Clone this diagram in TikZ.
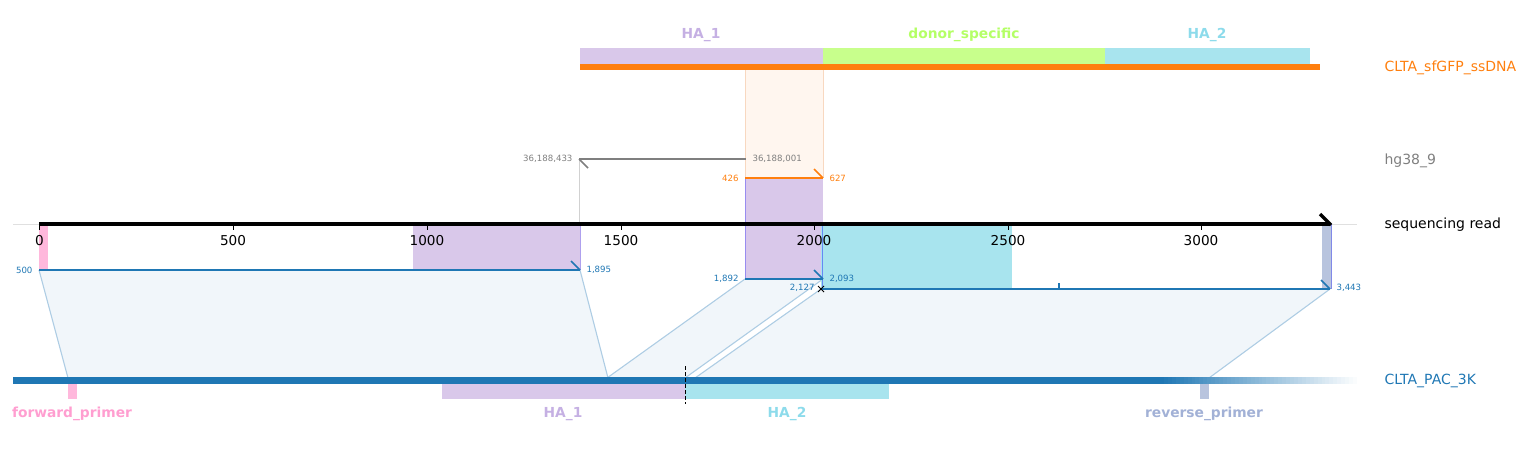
\documentclass[tikz,border=0pt]{standalone}
\usepackage{fontspec}
\setmainfont{DejaVu Sans}
\definecolor{cblue}{HTML}{1F77B4}
\definecolor{corange}{HTML}{FF7F0E}
\definecolor{cgray}{HTML}{7F7F7F}
\definecolor{hapurple}{HTML}{D9C8EA}
\definecolor{hapurpletxt}{HTML}{C5B0E3}
\definecolor{hacyan}{HTML}{A8E4EE}
\definecolor{hacyantxt}{HTML}{8DDBEB}
\definecolor{dgreen}{HTML}{C8FF8C}
\definecolor{dgreentxt}{HTML}{B4FF66}
\definecolor{fpink}{HTML}{FFB8DC}
\definecolor{fpinktxt}{HTML}{FF9ED0}
\definecolor{rgb}{HTML}{B8C4DE}
\definecolor{rgbtxt}{HTML}{A2B1D6}
\definecolor{polyfill}{HTML}{F1F6FA}
\definecolor{polyedge}{HTML}{AECDE4}
\definecolor{peach}{HTML}{FFF6EF}
\definecolor{peachedge}{HTML}{F8D8C0}
\begin{document}
\begin{tikzpicture}[x=1pt,y=-1pt,
  tick/.style={font=\fontsize{13.6}{15}\selectfont, anchor=north},
  small/.style={font=\fontsize{8.6}{9}\selectfont},
  rlab/.style={font=\fontsize{14}{16}\selectfont, anchor=west},
  blab/.style={font=\bfseries\fontsize{13.8}{15}\selectfont},
  aln/.style={line width=1.6pt, line cap=butt},
]
\useasboundingbox (0,0) rectangle (1528,448);

% ---------- connection polygons ----------
\coordinate (r1a) at (39,270); \coordinate (r1b) at (580,270);
\coordinate (p1a) at (68,378); \coordinate (p1b) at (608,378);
\fill[polyfill] (r1a) -- (r1b) -- (p1b) -- (p1a) -- cycle;
\draw[polyedge, line width=1.1pt] (r1a) -- (p1a) (r1b) -- (p1b);
\coordinate (r2a) at (745,279); \coordinate (r2b) at (823,279);
\coordinate (p2a) at (607,378); \coordinate (p2b) at (685,378);
\fill[polyfill] (r2a) -- (r2b) -- (p2b) -- (p2a) -- cycle;
\draw[polyedge, line width=1.1pt] (r2a) -- (p2a) (r2b) -- (p2b);
\coordinate (r3a) at (821,289); \coordinate (r3b) at (1330,289);
\coordinate (p3a) at (695,378); \coordinate (p3b) at (1209,378);
\fill[polyfill] (r3a) -- (r3b) -- (p3b) -- (p3a) -- cycle;
\draw[polyedge, line width=1.1pt] (r3a) -- (p3a) (r3b) -- (p3b);

% ---------- top donor ----------
\fill[peach] (745,69) rectangle (823,178);
\draw[peachedge, line width=0.8pt] (745,69) -- (745,178) (823,69) -- (823,178);
\fill[hapurple] (580,48) rectangle (823,64);
\fill[dgreen] (823,48) rectangle (1105,64);
\fill[hacyan] (1105,48) rectangle (1310,64);
\fill[corange] (580,64) rectangle (1320,70);
\node[blab, text=hapurpletxt] (tha1) at (701,35) {HA\_1};
\node[blab, text=dgreentxt] (tds) at (964,35) {donor\_specific};
\node[blab, text=hacyantxt] (tha2) at (1207,35) {HA\_2};

% ---------- read features ----------
\draw[black!12, line width=0.8pt] (13,224) -- (1357,224);
\fill[fpink] (39,224) rectangle (48,270);
\fill[hapurple] (413,224) rectangle (580,270);
\draw[hapurple!80!blue, line width=0.5pt] (580,224) -- (580,270);
\fill[hapurple] (745,178) rectangle (823,279);
\draw[hapurple!70!blue, line width=0.5pt] (745,178) -- (745,279);
\fill[hacyan] (821,224) rectangle (1012,289);
\draw[hacyan!60!blue, line width=0.8pt] (822,224) -- (822,289);
\fill[rgb] (1322,224) rectangle (1331,289);
\draw[rgb!70!blue, line width=0.5pt] (1331,224) -- (1331,289);

% gray hg38 alignment
\draw[black!18, line width=0.8pt] (579,159) -- (579,224);
\coordinate (g1) at (579,159); \coordinate (g2) at (746,159);
\draw[cgray, aln] (g1) -- (g2);
\draw[cgray, aln] (g1) -- (588,168);
\node[small, text=cgray, anchor=east] at (576,159) {36,188,433};
\node[small, text=cgray, anchor=west] at (749,159) {36,188,001};

% orange alignment
\coordinate (o1) at (745,178); \coordinate (o2) at (823,178);
\draw[corange, aln] (o1) -- (o2);
\draw[corange, aln] (814,169) -- (o2);
\node[small, text=corange, anchor=east] at (742,178) {426};
\node[small, text=corange, anchor=west] at (826,178) {627};

% blue alignments
\draw[cblue, aln] (r1a) -- (r1b);
\draw[cblue, aln] (571,261) -- (r1b);
\node[small, text=cblue, anchor=east] at (36,270) {500};
\node[small, text=cblue, anchor=west] at (583,270) {1,895};

\draw[cblue, aln] (r2a) -- (r2b);
\draw[cblue, aln] (814,270) -- (r2b);
\node[small, text=cblue, anchor=east] at (742,279) {1,892};
\node[small, text=cblue, anchor=west] at (826,279) {2,093};

\draw[cblue, aln] (r3a) -- (r3b);
\draw[cblue, aln] (1321,280) -- (r3b);
\draw[cblue, line width=1.4pt] (1059,283) -- (1059,289);
\draw[black, line width=1pt] (818,286) -- (824,292) (818,292) -- (824,286);
\node[small, text=cblue, anchor=east] at (818,288) {2,127};
\node[small, text=cblue, anchor=west] at (1333,288) {3,443};

% read axis
\draw[black, line width=3.2pt] (39,224) -- (1330,224);
\draw[black, line width=3.2pt, line cap=butt] (1320,214) -- (1331,225);
\foreach \v/\x in {0/39.5,500/233,1000/427,1500/621,2000/814,2500/1008,3000/1201}{
  \draw[black, line width=0.8pt] (\x,225) -- (\x,230);
  \node[tick] at (\x,232) {\v};
}

% ---------- reference bottom ----------
\fill[cblue] (13,377) rectangle (1160,384);
\foreach \i in {0,...,49}{
  \pgfmathsetmacro{\pc}{100-2*\i}
  \fill[cblue!\pc!white] ({1160+\i*3.94},377) rectangle ({1160+(\i+1)*3.94+0.3},384);
}
\fill[fpink] (68,384) rectangle (77,399);
\fill[hapurple] (442,384) rectangle (685,399);
\fill[hacyan] (685,384) rectangle (889,399);
\fill[rgb] (1200,384) rectangle (1209,399);
\draw[black, line width=1pt, dash pattern=on 4pt off 2pt] (685,366) -- (685,404);
\node[blab, text=fpinktxt] (bfp) at (72,414) {forward\_primer};
\node[blab, text=hapurpletxt] (bha1) at (563,414) {HA\_1};
\node[blab, text=hacyantxt] (bha2) at (787,414) {HA\_2};
\node[blab, text=rgbtxt] (brp) at (1204,414) {reverse\_primer};

% ---------- right labels ----------
\node[rlab, text=corange] (l1) at (1381,68) {CLTA\_sfGFP\_ssDNA};
\node[rlab, text=cgray] (l2) at (1381,161) {hg38\_9};
\node[rlab, text=black] (l3) at (1381,225) {sequencing read};
\node[rlab, text=cblue] (l4) at (1381,381) {CLTA\_PAC\_3K};
\end{tikzpicture}
\end{document}
